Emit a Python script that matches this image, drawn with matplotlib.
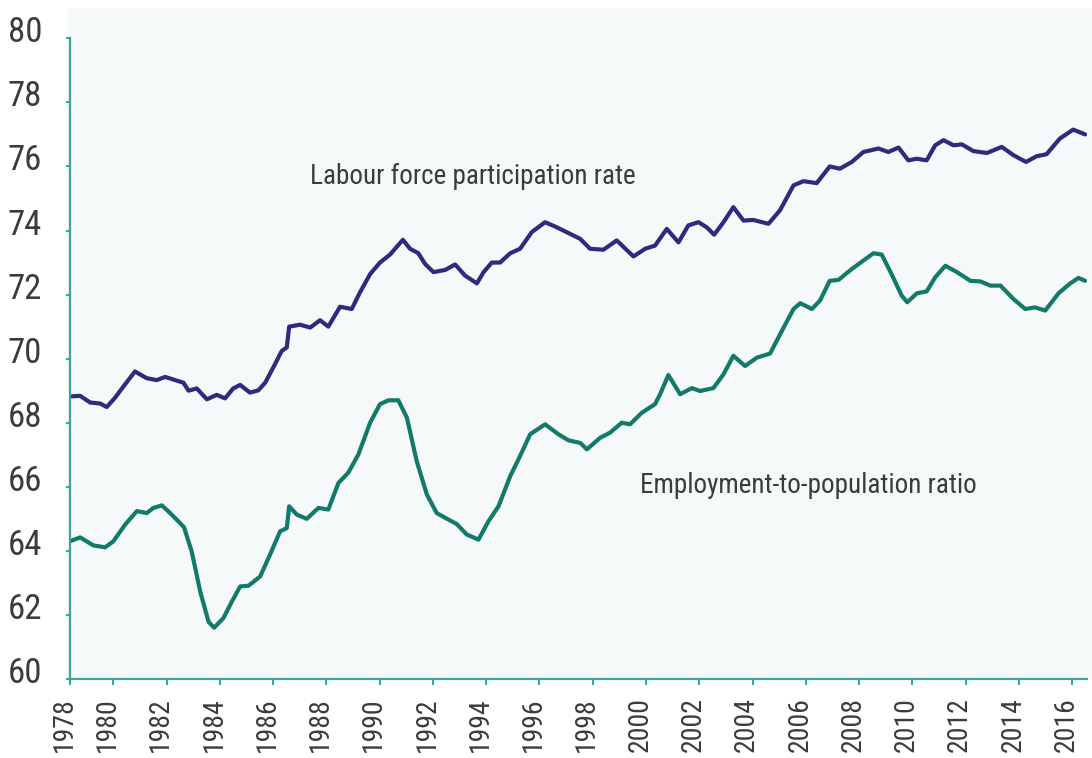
import numpy as np
import matplotlib
matplotlib.use("Agg")
import matplotlib.pyplot as plt
from matplotlib import font_manager
from matplotlib.patches import Rectangle
from matplotlib.transforms import ScaledTranslation

# values (decimal year, percent)
lfpr_year = [1978.37, 1978.75, 1979.13, 1979.5, 1979.75, 1980.06, 1980.44, 1980.81,
             1981.25, 1981.63, 1981.94, 1982.32, 1982.63, 1982.82, 1983.13, 1983.51,
             1983.88, 1984.19, 1984.5, 1984.76, 1985.13, 1985.44, 1985.7, 1986.07,
             1986.32, 1986.51, 1986.6, 1987.01, 1987.39, 1987.76, 1988.07, 1988.51,
             1988.95, 1989.26, 1989.64, 1990.01, 1990.39, 1990.87, 1991.14, 1991.45,
             1991.7, 1992.02, 1992.46, 1992.83, 1993.21, 1993.65, 1993.9, 1994.21,
             1994.52, 1994.9, 1995.27, 1995.71, 1996.21, 1996.65, 1997.09, 1997.53,
             1997.9, 1998.4, 1998.9, 1999.53, 1999.97, 2000.34, 2000.78, 2001.22,
             2001.59, 2001.97, 2002.28, 2002.56, 2002.91, 2003.28, 2003.66, 2004.03,
             2004.6, 2005.03, 2005.54, 2005.91, 2006.41, 2006.9, 2007.28, 2007.73,
             2008.16, 2008.73, 2009.1, 2009.48, 2009.85, 2010.17, 2010.54, 2010.86,
             2011.17, 2011.55, 2011.86, 2012.29, 2012.8, 2013.36, 2013.8, 2014.27,
             2014.67, 2015.04, 2015.54, 2016.04, 2016.49]
lfpr = [68.82, 68.84, 68.63, 68.6, 68.49, 68.78, 69.2, 69.6,
        69.39, 69.33, 69.43, 69.33, 69.25, 69.0, 69.07, 68.73,
        68.87, 68.76, 69.07, 69.18, 68.94, 69.01, 69.25, 69.83,
        70.24, 70.35, 71.0, 71.06, 70.97, 71.2, 71.0, 71.62,
        71.55, 72.07, 72.64, 73.0, 73.25, 73.71, 73.43, 73.29,
        72.96, 72.7, 72.77, 72.94, 72.59, 72.35, 72.7, 73.0,
        73.0, 73.29, 73.43, 73.95, 74.26, 74.1, 73.92, 73.74,
        73.43, 73.4, 73.69, 73.19, 73.43, 73.53, 74.05, 73.63,
        74.16, 74.26, 74.1, 73.87, 74.26, 74.73, 74.31, 74.33,
        74.21, 74.63, 75.41, 75.54, 75.48, 76.0, 75.93, 76.14,
        76.45, 76.56, 76.45, 76.59, 76.19, 76.24, 76.19, 76.66,
        76.82, 76.66, 76.69, 76.48, 76.42, 76.61, 76.35, 76.14,
        76.32, 76.38, 76.87, 77.15, 77.0]

epr_year = [1978.37, 1978.75, 1979.25, 1979.69, 1980.0, 1980.44, 1980.88, 1981.25,
            1981.5, 1981.82, 1982.13, 1982.44, 1982.65, 1982.94, 1983.26, 1983.57,
            1983.78, 1984.13, 1984.45, 1984.76, 1985.07, 1985.51, 1985.88, 1986.26,
            1986.51, 1986.6, 1986.89, 1987.26, 1987.7, 1988.07, 1988.45, 1988.82,
            1989.2, 1989.64, 1990.01, 1990.33, 1990.7, 1991.02, 1991.39, 1991.77,
            1992.14, 1992.64, 1992.89, 1993.27, 1993.71, 1994.08, 1994.46, 1994.9,
            1995.27, 1995.65, 1996.21, 1996.71, 1997.09, 1997.53, 1997.78, 1998.28,
            1998.65, 1999.09, 1999.4, 1999.84, 2000.34, 2000.53, 2000.84, 2001.28,
            2001.72, 2002.03, 2002.53, 2002.91, 2003.28, 2003.72, 2004.16, 2004.66,
            2005.04, 2005.54, 2005.79, 2006.23, 2006.53, 2006.9, 2007.23, 2007.73,
            2008.16, 2008.54, 2008.85, 2009.22, 2009.6, 2009.81, 2010.17, 2010.54,
            2010.86, 2011.24, 2011.68, 2012.18, 2012.56, 2012.93, 2013.31, 2013.8,
            2014.24, 2014.61, 2014.99, 2015.49, 2015.93, 2016.24, 2016.49]
epr = [64.3, 64.42, 64.17, 64.11, 64.3, 64.82, 65.24, 65.18,
       65.34, 65.42, 65.18, 64.92, 64.74, 63.98, 62.73, 61.79,
       61.6, 61.9, 62.42, 62.89, 62.91, 63.2, 63.88, 64.61,
       64.71, 65.39, 65.13, 65.0, 65.34, 65.29, 66.12, 66.44,
       67.01, 68.0, 68.58, 68.7, 68.7, 68.16, 66.8, 65.76,
       65.18, 64.95, 64.84, 64.51, 64.35, 64.92, 65.39, 66.33,
       66.96, 67.64, 67.95, 67.64, 67.45, 67.37, 67.17, 67.53,
       67.69, 68.0, 67.95, 68.31, 68.58, 68.89, 69.49, 68.89,
       69.08, 68.99, 69.08, 69.51, 70.09, 69.77, 70.03, 70.16,
       70.77, 71.55, 71.73, 71.55, 71.81, 72.43, 72.46, 72.8,
       73.06, 73.29, 73.25, 72.64, 71.97, 71.76, 72.04, 72.1,
       72.54, 72.9, 72.7, 72.43, 72.41, 72.28, 72.28, 71.86,
       71.55, 71.6, 71.5, 72.04, 72.35, 72.52, 72.43]

x_ticks = [1978.37] + list(range(1980, 2017, 2))
x_labels = ["1978"] + [str(y) for y in range(1980, 2017, 2)]
y_ticks = list(range(60, 81, 2))

navy = "#2c2b7c"
teal = "#137a6b"
spine_col = "#3aa596"
text_col = "#3b3b3b"
panel = "#f5f9f9"

# narrowest font we can find
names = {f.name for f in font_manager.fontManager.ttflist}
fam = "DejaVu Sans"
for cand in ["Liberation Sans Narrow", "Roboto Condensed", "Roboto", "Liberation Sans"]:
    if cand in names:
        fam = cand
        break
plt.rcParams["font.family"] = [fam, "DejaVu Sans"]

fig = plt.figure(figsize=(10.92, 7.58), dpi=100)
W, H = 1092, 758

# light panel behind the plot area (extends above the axes)
fig.patches.append(Rectangle((68 / W, (H - 679) / H), 1 - 68 / W, (679 - 8) / H,
                             transform=fig.transFigure, facecolor=panel,
                             edgecolor="none", zorder=-5))

ax = fig.add_axes([70 / W, (H - 679) / H, (1087 - 70) / W, (679 - 38.3) / H])
ax.set_zorder(2)
ax.set_facecolor(panel)

ax.plot(lfpr_year, lfpr, color=navy, lw=3.0, solid_joinstyle="round", solid_capstyle="round")
ax.plot(epr_year, epr, color=teal, lw=3.0, solid_joinstyle="round", solid_capstyle="round")

ax.set_xlim(1978.37, 2016.56)
ax.set_ylim(60, 80)

for s in ["top", "right"]:
    ax.spines[s].set_visible(False)
for s in ["left", "bottom"]:
    ax.spines[s].set_color(spine_col)
    ax.spines[s].set_linewidth(1.6)

ax.set_xticks(x_ticks)
ax.set_xticklabels(x_labels, rotation=90, fontsize=20, color=text_col)
ax.set_yticks(y_ticks)
ax.set_yticklabels([str(v) for v in y_ticks], fontsize=25, color=text_col)
ax.tick_params(axis="x", length=4, width=1.4, color=spine_col, pad=9)
ax.tick_params(axis="y", length=3, width=1.4, color=spine_col, pad=17)

for lbl in ax.get_yticklabels():
    lbl.set_transform(lbl.get_transform() + ScaledTranslation(0, 0.09, fig.dpi_scale_trans))
for lbl in ax.get_xticklabels():
    lbl.set_transform(lbl.get_transform() + ScaledTranslation(-0.06, 0, fig.dpi_scale_trans))

ax.text(1987.38, 75.7, "Labour force participation rate", fontsize=19.5,
        color=text_col, va="center", ha="left")
ax.text(1999.78, 66.05, "Employment-to-population ratio", fontsize=19.5,
        color=text_col, va="center", ha="left")

fig.savefig("out.png", dpi=100)
